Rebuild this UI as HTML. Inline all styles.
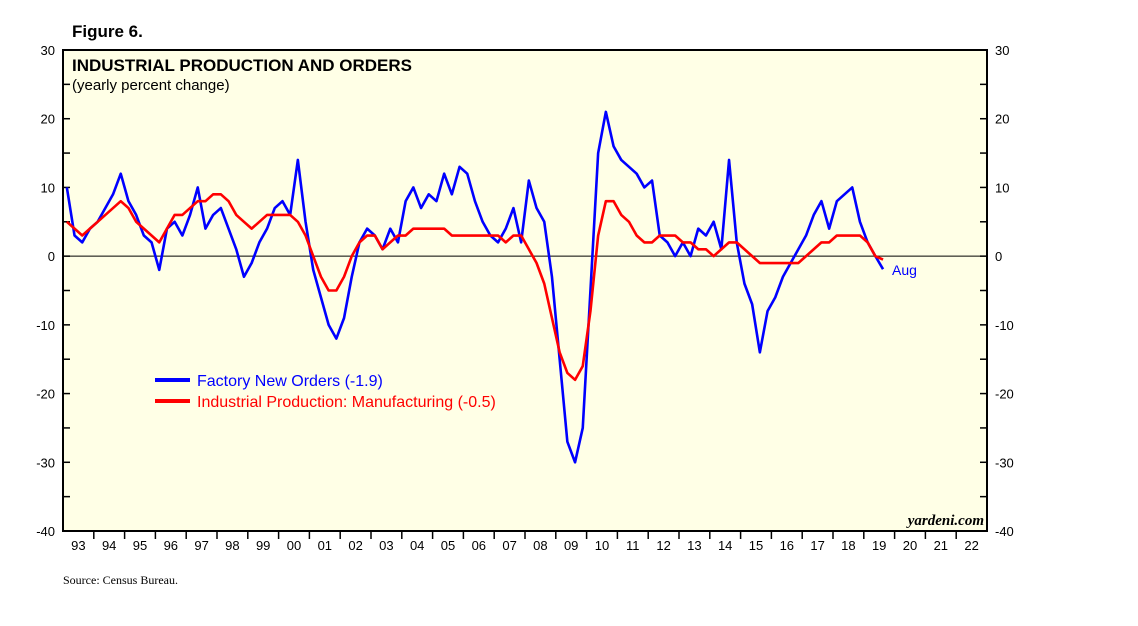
<!DOCTYPE html>
<html><head><meta charset="utf-8"><style>
body{margin:0;background:#fff;width:1138px;height:621px;overflow:hidden}
svg text{font-family:"Liberation Sans",sans-serif}
</style></head><body>
<svg width="1138" height="621">
<text x="72" y="37" font-size="17" font-weight="bold">Figure 6.</text>
<rect x="63" y="50" width="924" height="481" fill="#ffffe6"/>
<text x="72" y="71" font-size="17" font-weight="bold">INDUSTRIAL PRODUCTION AND ORDERS</text>
<text x="72" y="90" font-size="15">(yearly percent change)</text>
<g id="axes"></g>
<g id="series"></g>
<rect x="63" y="50" width="924" height="481" fill="none" stroke="#000" stroke-width="2"/>
<line x1="155" y1="380" x2="190" y2="380" stroke="#0000ff" stroke-width="4"/>
<text x="197" y="386" font-size="16" fill="#0000ff">Factory New Orders (-1.9)</text>
<line x1="155" y1="401" x2="190" y2="401" stroke="#ff0000" stroke-width="4"/>
<text x="197" y="407" font-size="16" fill="#ff0000">Industrial Production: Manufacturing (-0.5)</text>
<text x="892" y="275" font-size="14" fill="#0000ff">Aug</text>
<text x="984" y="525" font-size="15" font-style="italic" font-weight="bold" text-anchor="end" style="font-family:'Liberation Serif',serif">yardeni.com</text>
<text x="63" y="584" font-size="12" style="font-family:'Liberation Serif',serif">Source: Census Bureau.</text>
</svg>
<script>
const yTicks=[30,20,10,0,-10,-20,-30,-40];
const years=["93","94","95","96","97","98","99","00","01","02","03","04","05","06","07","08","09","10","11","12","13","14","15","16","17","18","19","20","21","22"];
const orders=[10,3,2,4, 5,7,9,12, 8,6,3,2, -2,4,5,3, 6,10,4,6, 7,4,1,-3, -1,2,4,7, 8,6,14,5, -2,-6,-10,-12, -9,-3,2,4, 3,1,4,2, 8,10,7,9, 8,12,9,13, 12,8,5,3, 2,4,7,2, 11,7,5,-3, -15,-27,-30,-25, -5,15,21,16, 14,13,12,10, 11,3,2,0, 2,0,4,3, 5,1,14,2, -4,-7,-14,-8, -6,-3,-1,1, 3,6,8,4, 8,9,10,5, 2,0,-1.9];
const production=[5,4,3,4, 5,6,7,8, 7,5,4,3, 2,4,6,6, 7,8,8,9, 9,8,6,5, 4,5,6,6, 6,6,5,3, 0,-3,-5,-5, -3,0,2,3, 3,1,2,3, 3,4,4,4, 4,4,3,3, 3,3,3,3, 3,2,3,3, 1,-1,-4,-9, -14,-17,-18,-16, -8,3,8,8, 6,5,3,2, 2,3,3,3, 2,2,1,1, 0,1,2,2, 1,0,-1,-1, -1,-1,-1,-1, 0,1,2,2, 3,3,3,3, 2,0,-0.5];
const NS="http://www.w3.org/2000/svg";
const L=63,R=987,T=50,B=531;
const y=v=>T+(30-v)*(B-T)/70;
const yrW=(R-L)/30;
const x=i=>L+(i+0.5)*yrW/4;
const ax=document.getElementById('axes'),se=document.getElementById('series');
function mk(tag,at,p){const e=document.createElementNS(NS,tag);for(const k in at)e.setAttribute(k,at[k]);p.appendChild(e);return e;}
for(let v=-35;v<=25;v+=5){
  const a=mk('line',{x1:L,x2:L+7,y1:y(v),y2:y(v),stroke:'#000','stroke-width':1.5},ax);
  
  
  const b=mk('line',{x1:R-7,x2:R,y1:y(v),y2:y(v),stroke:'#000','stroke-width':1.5},ax);
  
  
}
yTicks.forEach(v=>{
  const t=mk('text',{x:L-8,y:y(v)+5,'font-size':13,'text-anchor':'end'},ax);t.textContent=v;
  
  
  const t2=mk('text',{x:R+8,y:y(v)+5,'font-size':13},ax);t2.textContent=v;
  
  
});
const z=mk('line',{x1:L,x2:R,y1:y(0),y2:y(0),stroke:'#000','stroke-width':1},ax);


years.forEach((s,i)=>{
  const t=mk('text',{x:L+(i+0.5)*yrW,y:B+19,'font-size':13,'text-anchor':'middle'},ax);t.textContent=s;
  
  
  if(i>0){const k=mk('line',{x1:L+i*yrW,x2:L+i*yrW,y1:B,y2:B+8,stroke:'#000','stroke-width':1.5},ax);
  
  }
});
function line(d,c,n){
  const p=mk('polyline',{points:d.map((v,i)=>x(i)+','+y(v)).join(' '),fill:'none',stroke:c,'stroke-width':2.6,'stroke-linejoin':'round'},se);
  
  
}
line(orders,'#0000ff','factory-new-orders-line');
line(production,'#ff0000','industrial-production-line');
</script>
</body></html>
